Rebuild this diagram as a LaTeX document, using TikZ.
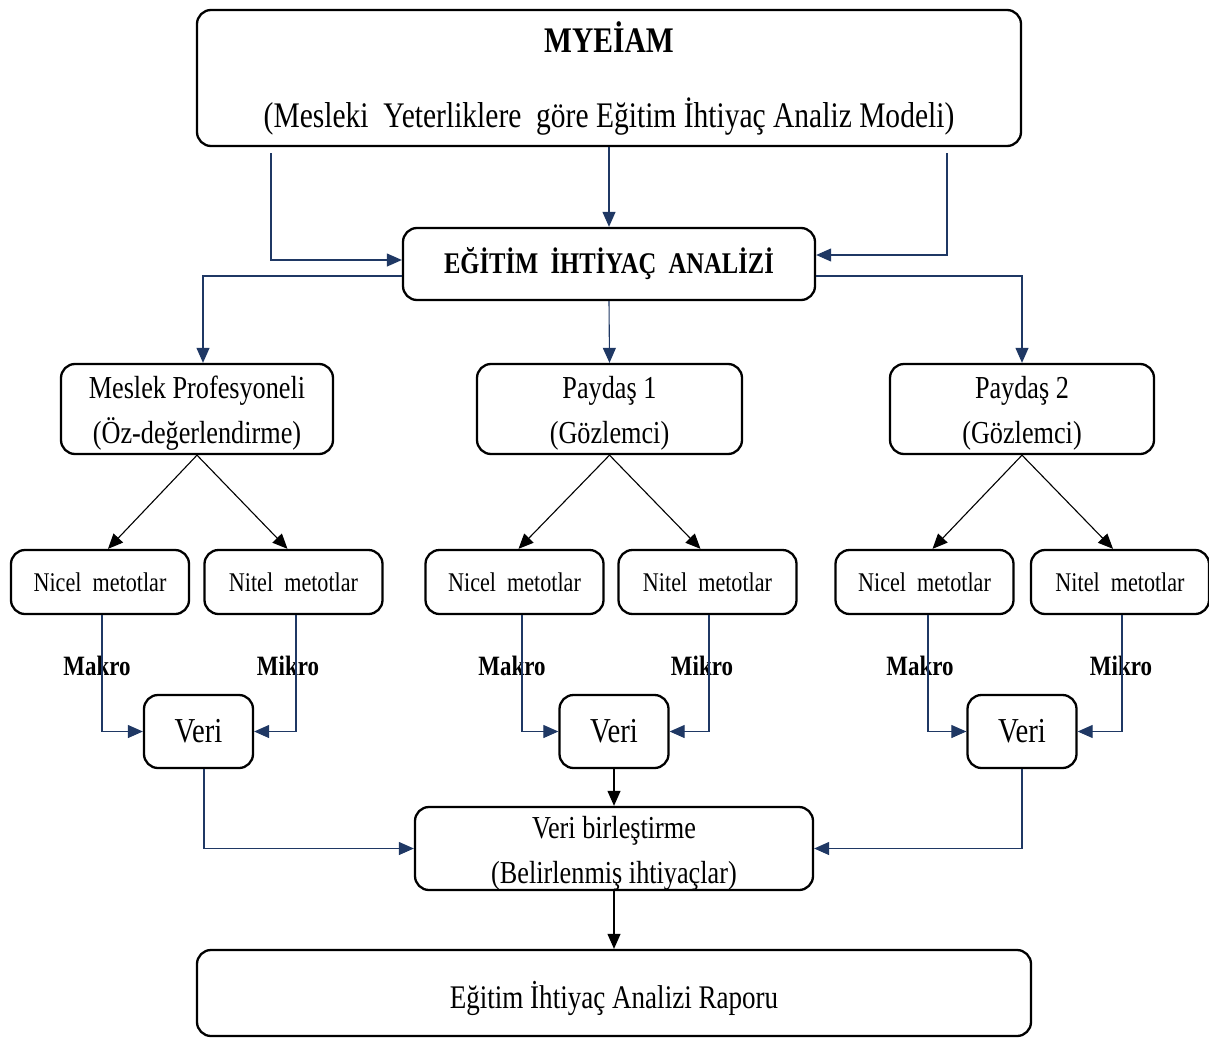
\documentclass[tikz,border=0pt]{standalone}
\usepackage{fontspec}
\setmainfont{Liberation Serif}[FakeStretch=0.82]
\usetikzlibrary{arrows.meta}
\definecolor{navy}{HTML}{1F3864}
\newcommand{\toppad}{\rule{0pt}{31pt}}

\begin{document}
\begin{tikzpicture}[x=1pt, y=-1pt]
    \tikzstyle{block} = [rectangle, draw, line width=2.3pt, rounded corners=14pt, align=center, inner sep=0pt]
    \tikzstyle{method} = [block, minimum width=178pt, minimum height=64pt, font=\fontsize{27}{30}\selectfont]
    \tikzstyle{veri} = [block, minimum width=109pt, minimum height=73pt, font=\fontsize{35}{40}\selectfont]
    \tikzstyle{actor} = [block, minimum height=90pt, font=\fontsize{32}{45}\selectfont]
    \tikzstyle{line} = [draw, line width=1.1pt, navy, -{Triangle[length=15pt, width=13pt]}]
    \tikzstyle{bline} = [draw, line width=1.1pt, black, -{Triangle[length=15pt, width=13pt]}]
    \tikzstyle{lbl} = [font=\bfseries\fontsize{28}{30}\selectfont]

    \useasboundingbox (0,0) rectangle (1209,1038);

    \node [block, minimum width=824pt, minimum height=136pt, font=\fontsize{36}{75}\selectfont] (model) at (609,78) {\textbf{MYEİAM}\\(Mesleki\ \ Yeterliklere\ \ göre Eğitim İhtiyaç Analiz Modeli)};
    \node [block, minimum width=412pt, minimum height=72pt, font=\bfseries\fontsize{30}{36}\selectfont] (analiz) at (609,264) {EĞİTİM\ \ İHTİYAÇ\ \ ANALİZİ};

    \node [actor, minimum width=272pt] (meslek) at (197,409) {\toppad Meslek Profesyoneli\\(Öz-değerlendirme)};
    \node [actor, minimum width=265pt] (paydas1) at (609.5,409) {\toppad Paydaş 1\\(Gözlemci)};
    \node [actor, minimum width=264pt] (paydas2) at (1022,409) {\toppad Paydaş 2\\(Gözlemci)};

    \node [method] (nicel1) at (100,582) {Nicel\ \ metotlar};
    \node [method] (nitel1) at (293.5,582) {Nitel\ \ metotlar};
    \node [method] (nicel2) at (514.5,582) {Nicel\ \ metotlar};
    \node [method] (nitel2) at (707.5,582) {Nitel\ \ metotlar};
    \node [method] (nicel3) at (924.5,582) {Nicel\ \ metotlar};
    \node [method] (nitel3) at (1120,582) {Nitel\ \ metotlar};

    \node [lbl] (makro1) at (97,666) {Makro};
    \node [lbl] (mikro1) at (288,666) {Mikro};
    \node [lbl] (makro2) at (512,666) {Makro};
    \node [lbl] (mikro2) at (702,666) {Mikro};
    \node [lbl] (makro3) at (920,666) {Makro};
    \node [lbl] (mikro3) at (1121,666) {Mikro};

    \node [veri] (veri1) at (198.5,731.5) {Veri};
    \node [veri] (veri2) at (614,731.5) {Veri};
    \node [veri] (veri3) at (1022,731.5) {Veri};

    \node [actor, minimum width=398pt, minimum height=83pt] (birles) at (614,848.5) {\toppad Veri birleştirme\\(Belirlenmiş ihtiyaçlar)};
    \node [block, minimum width=834pt, minimum height=86pt, font=\fontsize{33}{40}\selectfont] (rapor) at (614,993) {\rule{0pt}{38pt}Eğitim İhtiyaç Analizi Raporu};

    \path [line] ([xshift=-338pt, yshift=-6pt]model.south) |- ([yshift=4pt]analiz.west);
    \path [line] (model.south) -- (analiz.north);
    \path [line] ([xshift=338pt, yshift=-6pt]model.south) |- ([yshift=9pt]analiz.east);

    \path [line] ([yshift=-12pt]analiz.west) -| ([xshift=6pt]meslek.north);
    \path [line] (analiz.south) -- (paydas1.north);
    \path [line] ([yshift=-12pt]analiz.east) -| (paydas2.north);

    \path [bline] (meslek.south) -- ([xshift=8pt]nicel1.north);
    \path [bline] (meslek.south) -- ([xshift=-6pt]nitel1.north);
    \path [bline] (paydas1.south) -- ([xshift=4pt]nicel2.north);
    \path [bline] (paydas1.south) -- ([xshift=-7pt]nitel2.north);
    \path [bline] (paydas2.south) -- ([xshift=8pt]nicel3.north);
    \path [bline] (paydas2.south) -- ([xshift=-7pt]nitel3.north);

    \path [line] ([xshift=2pt]nicel1.south) |- (veri1.west);
    \path [line] ([xshift=2.5pt]nitel1.south) |- (veri1.east);
    \path [line] ([xshift=7.5pt]nicel2.south) |- (veri2.west);
    \path [line] ([xshift=1.5pt]nitel2.south) |- (veri2.east);
    \path [line] ([xshift=3.5pt]nicel3.south) |- (veri3.west);
    \path [line] ([xshift=2pt]nitel3.south) |- (veri3.east);

    \path [line] ([xshift=5.5pt]veri1.south) |- (birles.west);
    \path [bline] (veri2.south) -- (birles.north);
    \path [line] (veri3.south) |- (birles.east);
    \path [bline] (birles.south) -- (rapor.north);
\end{tikzpicture}
\end{document}
